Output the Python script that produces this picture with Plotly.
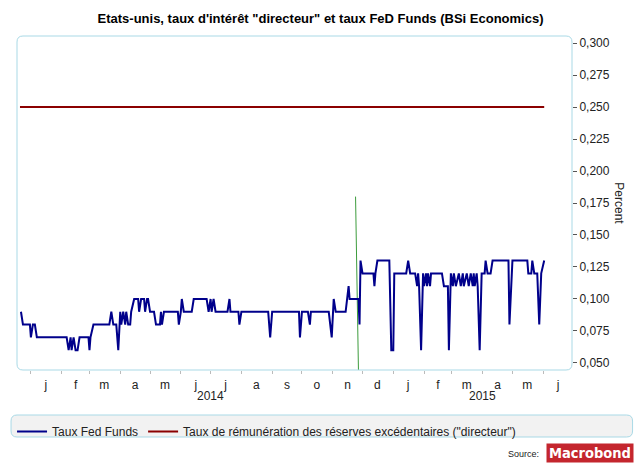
import plotly.graph_objects as go

# ---------------- data ----------------
fed_dates = [
    "2013-12-22", "2013-12-24", "2013-12-31", "2014-01-01", "2014-01-03", "2014-01-05", "2014-01-07",
    "2014-02-06", "2014-02-08", "2014-02-10", "2014-02-11", "2014-02-13", "2014-02-15", "2014-02-17",
    "2014-02-19", "2014-02-28", "2014-03-01", "2014-03-02", "2014-03-05", "2014-03-21", "2014-03-23",
    "2014-03-25", "2014-03-28", "2014-03-30", "2014-04-01", "2014-04-02", "2014-04-04", "2014-04-06",
    "2014-04-07", "2014-04-09", "2014-04-11", "2014-04-12", "2014-04-15", "2014-04-19", "2014-04-20",
    "2014-04-22", "2014-04-25", "2014-04-26", "2014-04-28", "2014-04-29", "2014-05-01", "2014-05-05",
    "2014-05-07", "2014-05-11", "2014-05-12", "2014-05-13", "2014-05-15", "2014-05-29", "2014-05-30",
    "2014-06-01", "2014-06-02", "2014-06-04", "2014-06-12", "2014-06-14", "2014-06-27", "2014-06-29",
    "2014-07-01", "2014-07-02", "2014-07-04", "2014-07-06", "2014-07-18", "2014-07-20", "2014-07-21",
    "2014-07-29", "2014-07-30", "2014-08-01", "2014-08-28", "2014-08-30", "2014-09-01", "2014-09-28",
    "2014-09-29", "2014-10-01", "2014-10-07", "2014-10-09", "2014-10-10", "2014-10-28", "2014-10-31",
    "2014-11-02", "2014-11-04", "2014-11-14", "2014-11-17", "2014-11-18", "2014-11-27", "2014-11-28",
    "2014-11-29", "2014-12-01", "2014-12-12", "2014-12-13", "2014-12-14", "2014-12-16", "2014-12-28",
    "2014-12-30", "2015-01-01", "2015-01-02", "2015-01-14", "2015-01-16", "2015-01-18", "2015-01-23",
    "2015-01-25", "2015-01-26", "2015-01-27", "2015-01-29", "2015-01-31", "2015-02-01", "2015-02-03",
    "2015-02-04", "2015-02-05", "2015-02-07", "2015-02-08", "2015-02-19", "2015-02-21", "2015-02-25",
    "2015-02-26", "2015-02-28", "2015-03-02", "2015-03-03", "2015-03-05", "2015-03-08", "2015-03-10",
    "2015-03-12", "2015-03-13", "2015-03-16", "2015-03-18", "2015-03-20", "2015-03-22", "2015-03-23",
    "2015-03-24", "2015-03-26", "2015-03-27", "2015-03-29", "2015-03-31", "2015-04-03", "2015-04-04",
    "2015-04-06", "2015-04-09", "2015-04-11", "2015-04-27", "2015-04-28", "2015-05-01", "2015-05-16",
    "2015-05-17", "2015-05-20", "2015-05-21", "2015-05-23", "2015-05-26", "2015-05-28", "2015-05-30",
    "2015-06-02",
]
fed_values = [
    0.09, 0.08, 0.08, 0.07, 0.08, 0.08, 0.07,
    0.07, 0.06, 0.07, 0.06, 0.07, 0.06, 0.06,
    0.07, 0.07, 0.06, 0.07, 0.08, 0.08, 0.09,
    0.08, 0.08, 0.06, 0.09, 0.08, 0.09, 0.08,
    0.09, 0.08, 0.08, 0.09, 0.10, 0.10, 0.09,
    0.10, 0.10, 0.09, 0.10, 0.10, 0.09, 0.09,
    0.08, 0.08, 0.09, 0.08, 0.09, 0.09, 0.08,
    0.09, 0.10, 0.09, 0.09, 0.10, 0.10, 0.09,
    0.10, 0.09, 0.10, 0.09, 0.09, 0.10, 0.09,
    0.09, 0.08, 0.09, 0.09, 0.07, 0.09, 0.09,
    0.07, 0.09, 0.09, 0.08, 0.09, 0.09, 0.07,
    0.10, 0.09, 0.09, 0.11, 0.10, 0.10, 0.08,
    0.13, 0.12, 0.12, 0.11, 0.12, 0.13, 0.13,
    0.06, 0.06, 0.12, 0.12, 0.13, 0.12, 0.12,
    0.11, 0.12, 0.11, 0.06, 0.12, 0.11, 0.12,
    0.11, 0.12, 0.11, 0.12, 0.12, 0.11, 0.11,
    0.06, 0.12, 0.11, 0.12, 0.11, 0.12, 0.11,
    0.12, 0.11, 0.12, 0.11, 0.12, 0.11, 0.12,
    0.11, 0.12, 0.11, 0.06, 0.12, 0.12, 0.13,
    0.12, 0.12, 0.13, 0.13, 0.08, 0.13, 0.13,
    0.12, 0.12, 0.13, 0.12, 0.12, 0.08, 0.12,
    0.13,
]

ioer_dates = ["2013-12-21", "2015-06-02"]
ioer_values = [0.25, 0.25]

green_dates = ["2014-11-24", "2014-11-27"]
green_values = [0.18, 0.04]

month_letters = ["j", "f", "m", "a", "m", "j", "j", "a", "s", "o", "n", "d",
                 "j", "f", "m", "a", "m", "j"]
month_label_dates = ["2014-01-16", "2014-02-15", "2014-03-16", "2014-04-16", "2014-05-16",
                     "2014-06-16", "2014-07-16", "2014-08-16", "2014-09-16", "2014-10-16",
                     "2014-11-16", "2014-12-16", "2015-01-16", "2015-02-15", "2015-03-16",
                     "2015-04-16", "2015-05-16", "2015-06-16"]
month_start_dates = ["2014-01-01", "2014-02-01", "2014-03-01", "2014-04-01", "2014-05-01",
                     "2014-06-01", "2014-07-01", "2014-08-01", "2014-09-01", "2014-10-01",
                     "2014-11-01", "2014-12-01", "2015-01-01", "2015-02-01", "2015-03-01",
                     "2015-04-01", "2015-05-01", "2015-06-01"]
year_start_dates = ["2014-01-01", "2015-01-01"]
year_labels = ["2014", "2015"]
year_label_dates = ["2014-07-01", "2015-04-01"]

y_ticks = [0.05, 0.075, 0.10, 0.125, 0.15, 0.175, 0.20, 0.225, 0.25, 0.275, 0.30]

x_range = ["2013-12-18", "2015-06-30"]
y_range = [0.0445, 0.3055]

FONT = "Liberation Sans, Arial, sans-serif"
BORDER = "#a9d9e6"

# ---------------- figure ----------------
W, H = 641, 469
ML, MR, MT, MB = 13, 69, 36, 99
PW, PH = W - ML - MR, H - MT - MB

fig = go.Figure()
fig.add_trace(go.Scatter(x=green_dates, y=green_values, mode="lines",
                         line=dict(color="#3c9c3c", width=1), showlegend=False,
                         hoverinfo="skip"))
fig.add_trace(go.Scatter(x=fed_dates, y=fed_values, mode="lines", name="Taux Fed Funds",
                         line=dict(color="#00008b", width=2)))
fig.add_trace(go.Scatter(x=ioer_dates, y=ioer_values, mode="lines",
                         name='Taux de rémunération des réserves excédentaires ("directeur")',
                         line=dict(color="#8b0000", width=2)))


def rounded_rect(x0, y0, x1, y1, r):
    """pixel box (top-left origin) -> paper-coordinate SVG path with rounded corners"""
    def px(x):
        return (x - ML) / PW

    def py(y):
        return (H - MB - y) / PH
    p = []
    p.append(f"M {px(x0 + r)} {py(y0)}")
    p.append(f"L {px(x1 - r)} {py(y0)}")
    p.append(f"Q {px(x1)} {py(y0)} {px(x1)} {py(y0 + r)}")
    p.append(f"L {px(x1)} {py(y1 - r)}")
    p.append(f"Q {px(x1)} {py(y1)} {px(x1 - r)} {py(y1)}")
    p.append(f"L {px(x0 + r)} {py(y1)}")
    p.append(f"Q {px(x0)} {py(y1)} {px(x0)} {py(y1 - r)}")
    p.append(f"L {px(x0)} {py(y0 + r)}")
    p.append(f"Q {px(x0)} {py(y0)} {px(x0 + r)} {py(y0)}")
    p.append("Z")
    return " ".join(p)


shapes = [
    dict(type="path", xref="paper", yref="paper", path=rounded_rect(ML, MT, W - MR, H - MB, 6),
         line=dict(color=BORDER, width=1), fillcolor="rgba(0,0,0,0)", layer="above"),
    dict(type="path", xref="paper", yref="paper", path=rounded_rect(7, 415, 633, 437, 6),
         line=dict(color=BORDER, width=1), fillcolor="#f2f2f2", layer="below"),
]

annotations = [
    dict(text="Percent", xref="paper", yref="paper", x=(619 - ML) / PW, y=0.5,
         textangle=90, showarrow=False, font=dict(family=FONT, size=12, color="#222"),
         xanchor="center", yanchor="middle"),
    dict(text="Source:", xref="paper", yref="paper", x=(541 - ML) / PW, y=(H - MB - 454) / PH,
         showarrow=False, xanchor="right", yanchor="middle",
         font=dict(family=FONT, size=9, color="#222")),
    dict(text="<b>Macrobond</b>", xref="paper", yref="paper", x=(590 - ML) / PW,
         y=(H - MB - 453) / PH, showarrow=False, xanchor="center", yanchor="middle",
         bgcolor="#c4262e", borderpad=0, width=86, height=18,
         font=dict(family="Liberation Sans Narrow, DejaVu Sans Condensed, Liberation Sans, sans-serif",
                   size=14.5, color="white")),
]
for lbl, d in zip(year_labels, year_label_dates):
    annotations.append(dict(text=lbl, x=d, xref="x", yref="paper", y=(H - MB - 396) / PH,
                            showarrow=False, xanchor="center", yanchor="middle",
                            font=dict(family=FONT, size=12, color="#222")))

fig.update_layout(
    width=W, height=H, autosize=False,
    margin=dict(l=ML, r=MR, t=MT, b=MB),
    paper_bgcolor="white", plot_bgcolor="white",
    separators=",.",
    title=dict(text='<b>Etats-unis, taux d\'intérêt "directeur" et taux FeD Funds (BSi Economics)</b>',
               x=0.5, xref="container", y=1 - 18 / H, yref="container",
               xanchor="center", yanchor="middle",
               font=dict(family=FONT, size=13, color="black")),
    xaxis=dict(type="date", range=x_range, showgrid=False, zeroline=False, showline=False,
               tickmode="array", tickvals=month_label_dates, ticktext=month_letters,
               ticks="outside", ticklen=4, tickcolor="rgba(0,0,0,0)",
               tickfont=dict(family=FONT, size=12, color="#222"),
               minor=dict(tickmode="array", tickvals=month_start_dates, ticks="outside",
                          ticklen=3, tickcolor="#bbbbbb", showgrid=False)),
    xaxis2=dict(type="date", range=x_range, overlaying="x", anchor="y", side="bottom",
                showgrid=False, zeroline=False, showline=False, tickmode="array",
                tickvals=year_start_dates, ticks="outside", ticklen=7, tickcolor="#777777",
                showticklabels=False),
    yaxis=dict(side="right", range=y_range, showgrid=False, zeroline=False, showline=False,
               tickmode="array", tickvals=y_ticks, tickformat=".3f", ticks="outside",
               ticklen=4, tickcolor="#555555",
               tickfont=dict(family=FONT, size=12, color="#222")),
    legend=dict(orientation="h", x=(8 - ML) / PW, xanchor="left", y=(H - MB - 417) / PH,
                yanchor="top", bgcolor="rgba(0,0,0,0)", itemwidth=30,
                font=dict(family=FONT, size=12, color="#222")),
    shapes=shapes,
    annotations=annotations,
    showlegend=True,
)

fig.write_html("out.html", config={"displayModeBar": False},
               post_script="document.body.style.margin='0';document.body.style.overflow='hidden';")
